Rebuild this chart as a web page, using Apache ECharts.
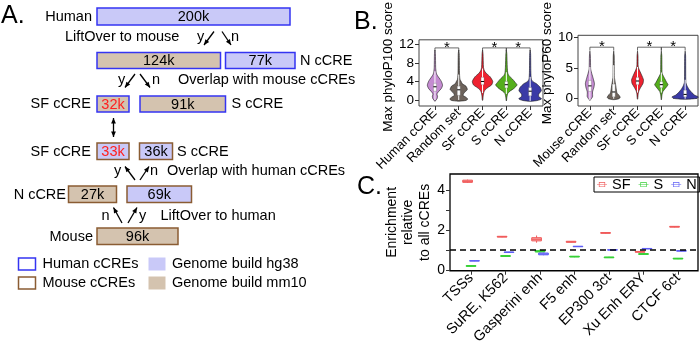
<!DOCTYPE html>
<html>
<head>
<meta charset="utf-8">
<script src="https://cdn.jsdelivr.net/npm/echarts@6/dist/echarts.min.js"></script>
<style>
  html, body { margin: 0; padding: 0; background: #fff; }
  #chart { width: 700px; height: 347px; }
</style>
</head>
<body>
<div id="chart"></div>
<script>
const FONT = 'Arial, "Liberation Sans", Helvetica, sans-serif';
const DIAGRAM_FONT = '14.5px ' + FONT;

// ---------- panel A : flow diagram ----------
// x0, x1, top, bottom, label, fill, border, red label
const diagramBoxes = [
  [97, 290, 8, 25, '200k', 'hg38', 'human', 0],
  [97, 220.5, 52.5, 68.5, '124k', 'mm10', 'human', 0],
  [225.5, 295, 52.5, 68.5, '77k', 'hg38', 'human', 0],
  [97, 129, 96, 112, '32k', 'mm10', 'human', 1],
  [140, 225.5, 96, 112, '91k', 'mm10', 'human', 0],
  [97, 129, 143, 159.5, '33k', 'hg38', 'mouse', 1],
  [139.5, 172.5, 143, 159.5, '36k', 'hg38', 'mouse', 0],
  [68.5, 116.5, 186, 202.5, '27k', 'mm10', 'mouse', 0],
  [127, 191.5, 186, 202.5, '69k', 'hg38', 'mouse', 0],
  [97, 178, 228, 244.5, '96k', 'mm10', 'mouse', 0],
  // legend swatches
  [18.5, 35.5, 258, 270, '', 'none', 'human', 0],
  [148.5, 165.5, 257.5, 270.5, '', 'hg38', 'none', 0],
  [18.5, 35.5, 277, 289, '', 'none', 'mouse', 0],
  [148.5, 165.5, 276.5, 289.5, '', 'mm10', 'none', 0]
];
const diagramTexts = [
  [92, 17, 'Human', 'right'],
  [65, 37, 'LiftOver to mouse', 'left'],
  [197, 37, 'y', 'left'],
  [231, 37, 'n', 'left'],
  [300, 61, 'N cCRE', 'left'],
  [118, 80, 'y', 'left'],
  [152, 80, 'n', 'left'],
  [178, 80, 'Overlap with mouse cCREs', 'left'],
  [91, 104, 'SF cCRE', 'right'],
  [231.5, 104, 'S cCRE', 'left'],
  [91, 151.5, 'SF cCRE', 'right'],
  [177, 151.5, 'S cCRE', 'left'],
  [114, 171, 'y', 'left'],
  [150, 171, 'n', 'left'],
  [167, 171, 'Overlap with human cCREs', 'left'],
  [66, 194.5, 'N cCRE', 'right'],
  [101.5, 215.5, 'n', 'left'],
  [139, 215.5, 'y', 'left'],
  [160.5, 215.5, 'LiftOver to human', 'left'],
  [93, 236.5, 'Mouse', 'right'],
  [42.5, 264, 'Human cCREs', 'left'],
  [172, 264, 'Genome build hg38', 'left'],
  [42.5, 283, 'Mouse cCREs', 'left'],
  [172, 283, 'Genome build mm10', 'left']
];
// from x,y to x,y (head at the end), double headed flag
const diagramArrows = [
  [214, 31.5, 204, 45, 0], [222, 31.5, 231, 45, 0],
  [135, 74, 125, 87.5, 0], [140, 74, 150, 87.5, 0],
  [113.5, 118, 113.5, 137, 1],
  [135, 180, 125, 166.5, 0], [140, 180, 149, 166.5, 0],
  [122, 223, 113.5, 207.5, 0], [128, 223, 137, 207.5, 0]
];
const fillColors = { hg38: '#c9c9f8', mm10: '#d4c3af', none: 'transparent' };
const borderColors = { human: '#3434f2', mouse: '#8a5c33', none: null };

// ---------- panel B : violins ----------
const phylo100Cats = ['Human cCRE', 'Random set', 'SF cCRE', 'S cCRE', 'N cCRE'];
const phylo60Cats = ['Mouse cCRE', 'Random set', 'SF cCRE', 'S cCRE', 'N cCRE'];
const violinColors = ['#c48bd1', '#6d635b', '#ee2230', '#54ae1c', '#3a3aa6'];

// [score, half width]
const phylo100Shapes = [
  [[-0.3, 0], [0.3, 0.09], [0.8, 0.11], [1.3, 0.08], [1.8, 0.15], [2.5, 0.27], [3.2, 0.32], [4, 0.27], [4.5, 0.21], [5, 0.14], [5.5, 0.08], [6, 0.05], [7, 0.03], [10, 0.02], [10.8, 0]],
  [[-0.25, 0.04], [-0.1, 0.3], [0.2, 0.38], [0.6, 0.3], [1, 0.18], [1.5, 0.22], [2.25, 0.36], [3, 0.3], [3.5, 0.15], [4, 0.1], [4.5, 0.05], [6, 0.03], [10, 0.02], [10.8, 0]],
  [[-0.1, 0], [0, 0.01], [1, 0.03], [1.75, 0.06], [2.25, 0.12], [2.75, 0.24], [3.25, 0.38], [4, 0.43], [5, 0.32], [5.8, 0.15], [6.3, 0.08], [7, 0.04], [10, 0.02], [10.8, 0]],
  [[-0.2, 0], [0, 0.01], [0.5, 0.02], [1.4, 0.06], [1.9, 0.15], [2.5, 0.32], [3.25, 0.45], [3.75, 0.38], [4.5, 0.26], [5.25, 0.11], [5.8, 0.06], [7, 0.04], [10, 0.02], [10.8, 0]],
  [[-0.3, 0.02], [-0.1, 0.32], [0.25, 0.48], [0.75, 0.36], [1.25, 0.36], [2, 0.47], [2.75, 0.42], [3.5, 0.27], [4, 0.11], [4.5, 0.05], [6, 0.03], [10, 0.02], [10.8, 0]]
];
const phylo60Shapes = [
  [[-0.3, 0], [0.3, 0.11], [1.1, 0.11], [1.9, 0.17], [2.5, 0.19], [3.3, 0.14], [4.1, 0.08], [4.7, 0.04], [5, 0.03], [7, 0.02], [7.8, 0]],
  [[-0.15, 0.05], [0, 0.22], [0.2, 0.27], [0.5, 0.24], [0.9, 0.14], [1.5, 0.11], [2.3, 0.08], [3, 0.05], [3.5, 0.03], [7, 0.02], [7.8, 0]],
  [[-0.1, 0], [0, 0.01], [0.9, 0.03], [1.3, 0.06], [1.9, 0.14], [2.5, 0.23], [3.1, 0.25], [3.9, 0.17], [4.5, 0.1], [5.2, 0.03], [7, 0.02], [7.8, 0]],
  [[-0.2, 0], [0, 0.01], [0.7, 0.03], [1.2, 0.07], [1.7, 0.17], [2.3, 0.28], [2.7, 0.22], [3.3, 0.14], [3.9, 0.06], [4.2, 0.03], [7, 0.02], [7.8, 0]],
  [[-0.1, 0.03], [0.05, 0.5], [0.3, 0.55], [0.6, 0.39], [1.0, 0.28], [1.5, 0.17], [2.1, 0.08], [2.7, 0.03], [7, 0.02], [7.8, 0]]
];
// low whisker, q1, median, q3, high whisker
const phylo100Boxes = [[0, 1.9, 2.85, 3.6, 6.2], [0, 1.0, 2.2, 3.0, 5.5], [1.5, 3.3, 4.0, 4.9, 6.8], [1.3, 2.6, 3.3, 4.0, 6.0], [-0.2, 0.9, 1.9, 2.7, 5.0]];
const phylo60Boxes = [[-0.2, 1.2, 2.1, 3.0, 5.2], [0, 0.3, 1.1, 2.4, 5.5], [1.0, 2.3, 2.9, 3.5, 5.2], [1.0, 1.8, 2.3, 2.8, 4.3], [0, 0.3, 0.7, 1.4, 3.1]];
const sigPairs = [[1, 2], [3, 4], [4, 5]];
const phylo100SigLevel = 11.25;
const phylo60SigLevel = 8.45;

// ---------- panel C : enrichment ----------
const enrichCats = ['TSSs', 'SuRE, K562', 'Gasperini enh', 'F5 enh', 'EP300 3ct', 'Xu Enh ERY', 'CTCF 6ct'];
// min, q1, median, q3, max
const enrichSF = [[4.38, 4.41, 4.46, 4.52, 4.55], [1.65, 1.66, 1.68, 1.70, 1.71], [1.38, 1.47, 1.55, 1.63, 1.74], [1.39, 1.40, 1.42, 1.45, 1.46], [1.84, 1.85, 1.87, 1.89, 1.90], [0.89, 0.90, 0.92, 0.94, 0.95], [2.15, 2.16, 2.18, 2.20, 2.21]];
const enrichS = [[0.18, 0.19, 0.21, 0.23, 0.24], [0.68, 0.69, 0.71, 0.73, 0.74], [0.89, 0.91, 0.94, 0.98, 1.04], [0.65, 0.66, 0.68, 0.70, 0.71], [0.61, 0.62, 0.64, 0.66, 0.67], [0.78, 0.79, 0.81, 0.83, 0.84], [0.55, 0.56, 0.58, 0.60, 0.61]];
const enrichN = [[0.45, 0.46, 0.47, 0.48, 0.49], [0.88, 0.89, 0.90, 0.91, 0.92], [0.75, 0.77, 0.81, 0.86, 0.88], [1.17, 1.18, 1.19, 1.20, 1.21], [1.00, 1.01, 1.02, 1.03, 1.04], [1.06, 1.07, 1.08, 1.09, 1.10], [0.95, 0.96, 0.97, 0.98, 0.99]];
const enrichBaseline = 1;

const myChart = echarts.init(document.getElementById('chart'), null, { renderer: 'canvas' });

function arrowHead(tip, from) {
  const dx = tip[0] - from[0], dy = tip[1] - from[1];
  const len = Math.sqrt(dx * dx + dy * dy);
  const ux = dx / len, uy = dy / len;
  const bx = tip[0] - ux * 5.5, by = tip[1] - uy * 5.5;
  return [[tip[0], tip[1]], [bx - uy * 2.4, by + ux * 2.4], [bx + uy * 2.4, by - ux * 2.4]];
}

function violinRender(shapes, boxes) {
  return function (params, api) {
    const i = params.dataIndex;
    const x = api.value(0);
    const shape = shapes[i];
    const right = shape.map(p => api.coord([x + p[1], p[0]]));
    const left = shape.slice().reverse().map(p => api.coord([x - p[1], p[0]]));
    const b = boxes[i];
    const lo = api.coord([x, b[0]]), q1 = api.coord([x, b[1]]), md = api.coord([x, b[2]]);
    const q3 = api.coord([x, b[3]]), hi = api.coord([x, b[4]]);
    return {
      type: 'group',
      children: [
        { type: 'polygon', shape: { points: right.concat(left), smooth: 0.2 }, style: { fill: violinColors[i], stroke: '#1a1a1a', lineWidth: 0.6 } },
        { type: 'line', shape: { x1: lo[0], y1: lo[1], x2: hi[0], y2: hi[1] }, style: { stroke: '#fff', lineWidth: 1 } },
        { type: 'rect', shape: { x: q3[0] - 1.5, y: q3[1], width: 3, height: q1[1] - q3[1] }, style: { fill: '#fff', stroke: '#555', lineWidth: 0.3 } },
        { type: 'line', shape: { x1: md[0] - 1.6, y1: md[1], x2: md[0] + 1.6, y2: md[1] }, style: { stroke: '#000', lineWidth: 1 } }
      ]
    };
  };
}

function bracketRender(pairs, level) {
  return function (params, api) {
    const p = pairs[params.dataIndex];
    const a = api.coord([p[0], level]);
    const b = api.coord([p[1], level]);
    return {
      type: 'group',
      children: [
        { type: 'polyline', shape: { points: [[a[0], a[1] + 3.5], [a[0], a[1]], [b[0], b[1]], [b[0], b[1] + 3.5]] }, style: { stroke: '#444', lineWidth: 0.8, fill: null } },
        { type: 'text', style: { text: '*', x: (a[0] + b[0]) / 2, y: a[1], align: 'center', verticalAlign: 'middle', font: '15px ' + FONT, fill: '#000' } }
      ]
    };
  };
}

function enrichRender(stats, offset, stroke, fill) {
  return function (params, api) {
    const s = stats[params.dataIndex];
    const x = api.value(0) + offset;
    const l = api.coord([x - 0.14, s[3]]);
    const r = api.coord([x + 0.14, s[1]]);
    const c0 = api.coord([x, s[0]]), c4 = api.coord([x, s[4]]), md = api.coord([x, s[2]]);
    return {
      type: 'group',
      children: [
        { type: 'line', shape: { x1: c0[0], y1: c0[1], x2: c4[0], y2: c4[1] }, style: { stroke: stroke, lineWidth: 1 } },
        { type: 'rect', shape: { x: l[0], y: l[1], width: r[0] - l[0], height: Math.max(r[1] - l[1], 0.5) }, style: { fill: fill, stroke: stroke, lineWidth: 1 } },
        { type: 'line', shape: { x1: l[0], y1: md[1], x2: r[0], y2: md[1] }, style: { stroke: stroke, lineWidth: 1 } }
      ]
    };
  };
}

const hiddenAxis = { show: false, axisLine: { show: false }, axisTick: { show: false }, axisLabel: { show: false }, splitLine: { show: false } };
const tickStyle = { show: true, length: 4, lineStyle: { color: '#333', width: 1 } };

function violinXAxis(grid, cats, min, max) {
  return {
    type: 'value', gridIndex: grid, min: min, max: max,
    axisLine: { show: false, onZero: false },
    axisTick: Object.assign({ customValues: [1, 2, 3, 4, 5] }, tickStyle),
    axisLabel: { customValues: [1, 2, 3, 4, 5], formatter: v => cats[v - 1], rotate: 45, fontSize: 13, color: '#000', margin: 5, fontFamily: FONT },
    splitLine: { show: false }
  };
}

const option = {
  animation: false,
  backgroundColor: '#fff',
  textStyle: { fontFamily: FONT },
  title: [
    { text: 'A.', left: 1, top: 4, padding: 0, textStyle: { fontSize: 25, fontWeight: 'normal', color: '#000', fontFamily: FONT } },
    { text: 'B.', left: 354, top: 10, padding: 0, textStyle: { fontSize: 25, fontWeight: 'normal', color: '#000', fontFamily: FONT } },
    { text: 'C.', left: 357, top: 175, padding: 0, textStyle: { fontSize: 25, fontWeight: 'normal', color: '#000', fontFamily: FONT } }
  ],
  legend: {
    left: 594, top: 177, orient: 'horizontal', selectedMode: false,
    data: ['SF', 'S', 'N'],
    icon: 'path://M0,4.5H3V5.5H0Z M3,1H13V9H3Z M4,2V8H12V2Z M4,4.5H12V5.5H4Z M13,4.5H16V5.5H13Z',
    itemWidth: 10, itemHeight: 8, itemGap: 8,
    padding: [0, 3, 0, 3],
    borderColor: '#000', borderWidth: 1,
    textStyle: { fontSize: 14.5, color: '#000', fontFamily: FONT, lineHeight: 15 }
  },
  grid: [
    { left: 0, top: 0, width: 350, height: 347 },
    { left: 419, top: 9, width: 124, height: 97, show: true, borderColor: '#444', borderWidth: 1 },
    { left: 578, top: 9, width: 120, height: 97, show: true, borderColor: '#444', borderWidth: 1 },
    { left: 450, top: 174, width: 248, height: 100, show: true, borderColor: '#000', borderWidth: 1.3 }
  ],
  xAxis: [
    Object.assign({ type: 'value', gridIndex: 0, min: 0, max: 350 }, hiddenAxis),
    violinXAxis(1, phylo100Cats, 0.33, 5.54),
    violinXAxis(2, phylo60Cats, 0.5, 5.54),
    {
      type: 'value', gridIndex: 3, min: 0.39, max: 7.58,
      axisLine: { show: false, onZero: false },
      axisTick: Object.assign({ customValues: [1, 2, 3, 4, 5, 6, 7] }, tickStyle),
      axisLabel: { customValues: [1, 2, 3, 4, 5, 6, 7], formatter: v => enrichCats[v - 1], rotate: 45, fontSize: 14.5, color: '#000', margin: 5, fontFamily: FONT },
      splitLine: { show: false }
    }
  ],
  yAxis: [
    Object.assign({ type: 'value', gridIndex: 0, min: 0, max: 347, inverse: true }, hiddenAxis),
    {
      type: 'value', gridIndex: 1, min: -1.3, max: 13,
      name: 'Max phyloP100 score', nameLocation: 'middle', nameGap: 19, nameRotate: 90,
      nameTextStyle: { fontSize: 13.5, color: '#000', fontFamily: FONT, padding: [0, 0, 0, 12] },
      axisLine: { show: false, onZero: false },
      axisTick: Object.assign({ customValues: [0, 4, 8, 12] }, tickStyle),
      axisLabel: { customValues: [0, 4, 8, 12], fontSize: 13.5, color: '#000', margin: 5, fontFamily: FONT },
      splitLine: { show: false }
    },
    {
      type: 'value', gridIndex: 2, min: -1.2, max: 10.4,
      name: 'Max phyloP60 score', nameLocation: 'middle', nameGap: 16, nameRotate: 90,
      nameTextStyle: { fontSize: 13.5, color: '#000', fontFamily: FONT, padding: [0, 0, 0, 15] },
      axisLine: { show: false, onZero: false },
      axisTick: Object.assign({ customValues: [0, 5, 10] }, tickStyle),
      axisLabel: { customValues: [0, 5, 10], fontSize: 13.5, color: '#000', margin: 5, fontFamily: FONT },
      splitLine: { show: false }
    },
    {
      type: 'value', gridIndex: 3, min: -0.03, max: 4.83,
      name: 'Enrichment\nrelative\nto all cCREs', nameLocation: 'middle', nameGap: 14, nameRotate: 90,
      nameTextStyle: { fontSize: 14, color: '#000', fontFamily: FONT, lineHeight: 16.5 },
      axisLine: { show: false, onZero: false },
      axisTick: Object.assign({ customValues: [0, 1, 2, 3, 4] }, tickStyle),
      axisLabel: { customValues: [0, 2, 4], fontSize: 14, color: '#000', margin: 5, fontFamily: FONT },
      splitLine: { show: false }
    }
  ],
  series: [
    // panel A
    {
      type: 'custom', name: 'boxes', xAxisIndex: 0, yAxisIndex: 0, silent: true,
      data: diagramBoxes.map(b => [b[0], b[2]]),
      renderItem: function (params, api) {
        const b = diagramBoxes[params.dataIndex];
        const p0 = api.coord([b[0], b[2]]), p1 = api.coord([b[1], b[3]]);
        const children = [{
          type: 'rect',
          shape: { x: p0[0], y: p0[1], width: p1[0] - p0[0], height: p1[1] - p0[1] },
          style: { fill: fillColors[b[5]], stroke: borderColors[b[6]], lineWidth: borderColors[b[6]] ? 1.5 : 0 }
        }];
        if (b[4]) {
          children.push({ type: 'text', style: { text: b[4], x: (p0[0] + p1[0]) / 2, y: (p0[1] + p1[1]) / 2 + 0.5, align: 'center', verticalAlign: 'middle', font: DIAGRAM_FONT, fill: b[7] ? '#ff2020' : '#000' } });
        }
        return { type: 'group', children: children };
      }
    },
    {
      type: 'custom', name: 'texts', xAxisIndex: 0, yAxisIndex: 0, silent: true,
      data: diagramTexts.map(t => [t[0], t[1]]),
      renderItem: function (params, api) {
        const t = diagramTexts[params.dataIndex];
        const p = api.coord([t[0], t[1]]);
        return { type: 'text', style: { text: t[2], x: p[0], y: p[1], align: t[3], verticalAlign: 'middle', font: DIAGRAM_FONT, fill: '#000' } };
      }
    },
    {
      type: 'custom', name: 'arrows', xAxisIndex: 0, yAxisIndex: 0, silent: true,
      data: diagramArrows.map(a => [a[0], a[1]]),
      renderItem: function (params, api) {
        const a = diagramArrows[params.dataIndex];
        const s = api.coord([a[0], a[1]]), e = api.coord([a[2], a[3]]);
        const children = [
          { type: 'line', shape: { x1: s[0], y1: s[1], x2: e[0], y2: e[1] }, style: { stroke: '#000', lineWidth: 1.3 } },
          { type: 'polygon', shape: { points: arrowHead(e, s) }, style: { fill: '#000' } }
        ];
        if (a[4]) children.push({ type: 'polygon', shape: { points: arrowHead(s, e) }, style: { fill: '#000' } });
        return { type: 'group', children: children };
      }
    },
    // panel B
    {
      type: 'custom', name: 'phyloP100', xAxisIndex: 1, yAxisIndex: 1, silent: true,
      data: phylo100Boxes.map((b, i) => [i + 1, b[2]]),
      renderItem: violinRender(phylo100Shapes, phylo100Boxes)
    },
    {
      type: 'custom', name: 'sig100', xAxisIndex: 1, yAxisIndex: 1, silent: true,
      data: sigPairs.map(p => [p[0], phylo100SigLevel]),
      renderItem: bracketRender(sigPairs, phylo100SigLevel)
    },
    {
      type: 'custom', name: 'phyloP60', xAxisIndex: 2, yAxisIndex: 2, silent: true,
      data: phylo60Boxes.map((b, i) => [i + 1, b[2]]),
      renderItem: violinRender(phylo60Shapes, phylo60Boxes)
    },
    {
      type: 'custom', name: 'sig60', xAxisIndex: 2, yAxisIndex: 2, silent: true,
      data: sigPairs.map(p => [p[0], phylo60SigLevel]),
      renderItem: bracketRender(sigPairs, phylo60SigLevel)
    },
    // panel C
    {
      type: 'custom', name: 'SF', xAxisIndex: 3, yAxisIndex: 3, silent: true,
      itemStyle: { color: '#f05a5a' },
      data: enrichSF.map((s, i) => [i + 1, s[2]]),
      renderItem: enrichRender(enrichSF, -0.1, '#f05a5a', '#f7a5a5'),
      markLine: {
        silent: true, symbol: 'none', label: { show: false },
        lineStyle: { color: '#000', type: [6, 4], width: 1.5 },
        data: [{ yAxis: enrichBaseline }]
      }
    },
    {
      type: 'custom', name: 'S', xAxisIndex: 3, yAxisIndex: 3, silent: true,
      itemStyle: { color: '#35d035' },
      data: enrichS.map((s, i) => [i + 1, s[2]]),
      renderItem: enrichRender(enrichS, 0, '#35d035', '#8fe88f')
    },
    {
      type: 'custom', name: 'N', xAxisIndex: 3, yAxisIndex: 3, silent: true,
      itemStyle: { color: '#5f5ff5' },
      data: enrichN.map((s, i) => [i + 1, s[2]]),
      renderItem: enrichRender(enrichN, 0.1, '#5f5ff5', '#a8a8fa')
    }
  ]
};

myChart.setOption(option);
window.addEventListener('resize', function () {
  myChart.resize();
});
</script>
</body>
</html>
